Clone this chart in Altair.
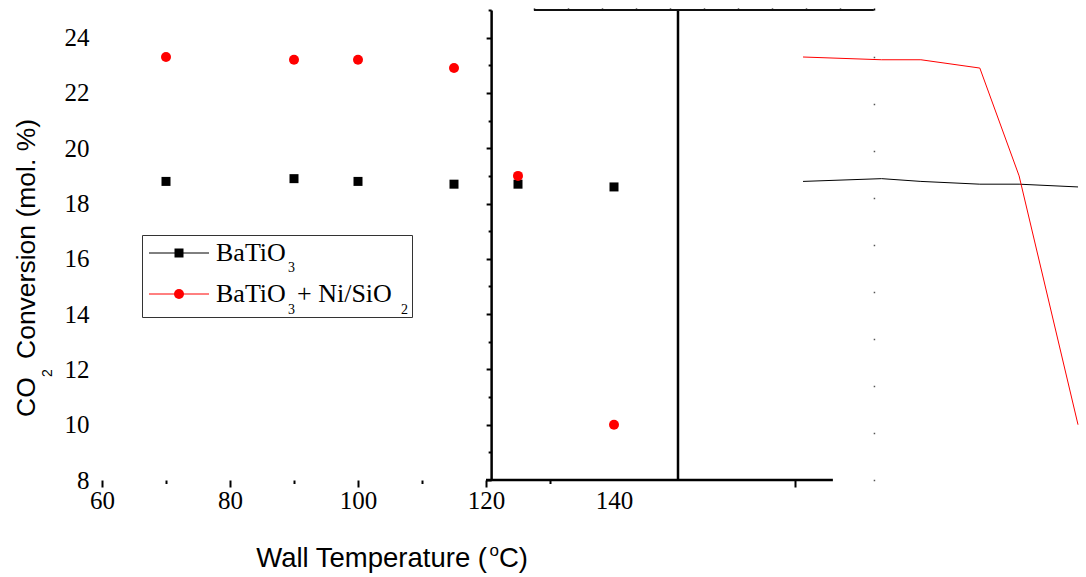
import altair as alt
import pandas as pd

# ---- data ----
temps = [70, 90, 100, 115, 125, 140]
batio3 = [18.8, 18.9, 18.8, 18.7, 18.7, 18.6]
batio3_ni = [23.3, 23.2, 23.2, 22.9, 19.0, 10.0]
series_names = ["BaTiO3", "BaTiO3 + Ni/SiO2"]
x_tick_labels = [60, 80, 100, 120, 140]
y_tick_labels = [8, 10, 12, 14, 16, 18, 20, 22, 24]

# stray frame fragments (in data units)
y_major = [8, 10, 12, 14, 16, 18, 20, 22, 24]
y_minor = [9, 11, 13, 15, 17, 19, 21, 23, 25]
x_major_ticks = [60, 80, 100, 120, 168.3]
x_minor_ticks = [70, 90, 110, 130]
top_ticks = [127.5, 132.8, 138.1, 143.4, 148.75, 154.1, 159.4, 164.7, 170.0, 175.3, 180.6]
right_dots = [8, 9.7, 11.4, 13.1, 14.8, 16.5, 18.2, 19.9, 21.6, 23.3]

X_DOMAIN = [60, 210]
Y_DOMAIN = [8, 25]
LINE_X_DOMAIN = [-108.44, 135.92]
W, H = 960, 470
PAD_L, PAD_T = 102, 10
PX = W / (X_DOMAIN[1] - X_DOMAIN[0])

SERIF = "Liberation Serif"
SANS = "Liberation Sans"

df = pd.DataFrame({
    "T": temps * 2,
    "conv": batio3 + batio3_ni,
    "series": [series_names[0]] * len(temps) + [series_names[1]] * len(temps),
})

xs = alt.Scale(domain=X_DOMAIN, nice=False, zero=False)
ys = alt.Scale(domain=Y_DOMAIN, nice=False, zero=False)
cs = alt.Scale(domain=series_names, range=["#000000", "#ff0000"])
ss = alt.Scale(domain=series_names, range=["square", "circle"])
zs = alt.Scale(domain=series_names, range=[81, 100])

def blank_axis(**kw):
    base = dict(title=None, grid=False, labels=False, domain=False,
                tickColor="black")
    base.update(kw)
    return alt.Axis(**base)

points = alt.Chart(df).mark_point(filled=True, opacity=1).encode(
    x=alt.X("T:Q", scale=xs, axis=alt.Axis(
        values=x_tick_labels, ticks=False, domain=False, grid=False, title=None,
        labelFont=SERIF, labelFontSize=25, labelColor="black", labelPadding=8,
        labelFlush=False, labelOverlap=False, orient="bottom")),
    y=alt.Y("conv:Q", scale=ys, axis=alt.Axis(
        values=y_tick_labels, ticks=False, domain=False, grid=False, title=None,
        labelFont=SERIF, labelFontSize=25, labelColor="black", labelPadding=13,
        labelFlush=False, labelOverlap=False, orient="left")),
    color=alt.Color("series:N", scale=cs, legend=None),
    shape=alt.Shape("series:N", scale=ss, legend=None),
    size=alt.Size("series:N", scale=zs, legend=None),
)

off_left = -(120.8 - X_DOMAIN[0]) * PX
lines = alt.Chart(df).mark_line(strokeWidth=1).encode(
    x=alt.X("T:Q", scale=alt.Scale(domain=LINE_X_DOMAIN, nice=False, zero=False), axis=None),
    y=alt.Y("conv:Q", scale=ys, axis=blank_axis(
        orient="left", offset=off_left, values=y_major, tickSize=5, tickWidth=2,
        domain=True, domainWidth=2.5, domainColor="black")),
    color=alt.Color("series:N", scale=cs, legend=None),
)

vline = alt.Chart(pd.DataFrame({"x": [150], "y": [Y_DOMAIN[0]], "y2": [Y_DOMAIN[1]]})).mark_rule(
    strokeWidth=2.5, color="black").encode(
    x=alt.X("x:Q", scale=xs, axis=blank_axis(orient="bottom", values=x_major_ticks,
                                              tickSize=7, tickWidth=2)),
    y=alt.Y("y:Q", scale=ys, axis=blank_axis(orient="left", offset=off_left, values=y_minor,
                                              tickSize=3, tickWidth=2)),
    y2="y2:Q",
)

bline = alt.Chart(pd.DataFrame({"x": [120], "x2": [174.2], "y": [Y_DOMAIN[0]]})).mark_rule(
    strokeWidth=2.5, color="black").encode(
    x=alt.X("x:Q", scale=xs, axis=blank_axis(orient="bottom", values=x_minor_ticks,
                                              tickSize=3.5, tickWidth=2)),
    x2="x2:Q",
    y=alt.Y("y:Q", scale=ys, axis=None),
)

off_right = -(X_DOMAIN[1] - 180.5) * PX
tline = alt.Chart(pd.DataFrame({"x": [127.5], "x2": [180.6], "y": [Y_DOMAIN[1]]})).mark_rule(
    strokeWidth=2, color="#111111").encode(
    x=alt.X("x:Q", scale=xs, axis=blank_axis(orient="top", values=top_ticks,
                                              tickSize=2, tickWidth=1.5)),
    x2="x2:Q",
    y=alt.Y("y:Q", scale=ys, axis=blank_axis(orient="right", offset=off_right, values=right_dots,
                                              tickSize=1.5, tickWidth=1.5, tickColor="#555555")),
)

one = pd.DataFrame({"a": [0]})

def txt(s, x, y, size, font, angle=0, align="left", color="black"):
    return alt.Chart(one).mark_text(
        text=s, align=align, baseline="alphabetic", font=font, fontSize=size,
        angle=angle, color=color).encode(x=alt.value(x - PAD_L), y=alt.value(y - PAD_T))

# legend
legend_box = alt.Chart(one).mark_rect(fill="white", stroke="#333333", strokeWidth=1).encode(
    x=alt.value(142.5 - PAD_L), x2=alt.value(412.5 - PAD_L),
    y=alt.value(235.5 - PAD_T), y2=alt.value(317.5 - PAD_T))
leg_line1 = alt.Chart(one).mark_rule(color="black", strokeWidth=1).encode(
    x=alt.value(149 - PAD_L), x2=alt.value(209 - PAD_L), y=alt.value(253 - PAD_T))
leg_line2 = alt.Chart(one).mark_rule(color="#ff0000", strokeWidth=1).encode(
    x=alt.value(149 - PAD_L), x2=alt.value(209 - PAD_L), y=alt.value(294 - PAD_T))
leg_sym1 = alt.Chart(one).mark_point(shape="square", filled=True, opacity=1, color="black", size=81).encode(
    x=alt.value(179 - PAD_L), y=alt.value(253 - PAD_T))
leg_sym2 = alt.Chart(one).mark_point(shape="circle", filled=True, opacity=1, color="#ff0000", size=100).encode(
    x=alt.value(179 - PAD_L), y=alt.value(294 - PAD_T))

texts = [
    txt("BaTiO", 216, 261, 26, SERIF),
    txt("3", 288, 272, 14, SERIF),
    txt("BaTiO", 216, 302, 26, SERIF),
    txt("3", 288, 314, 14, SERIF),
    txt("+ Ni/SiO", 297, 302, 26, SERIF),
    txt("2", 401, 313.5, 14, SERIF),
    # x title
    txt("Wall Temperature (", 487, 566.5, 27.5, SANS, align="right"),
    txt("o", 489.5, 556, 17, SANS),
    txt("C)", 499, 566.5, 27.5, SANS),
    # y title
    txt("CO", 35, 417, 26.5, SANS, angle=270),
    txt("2", 52, 377, 14, SANS, angle=270),
    txt("Conversion (mol. %)", 35, 359, 26.5, SANS, angle=270),
]

chart = alt.layer(
    lines, vline, bline, tline, points,
    legend_box, leg_line1, leg_line2, leg_sym1, leg_sym2, *texts
).resolve_scale(x="independent").resolve_axis(x="independent", y="independent").properties(
    width=W, height=H,
    padding={"left": PAD_L, "top": PAD_T, "right": 1086 - PAD_L - W, "bottom": 577 - PAD_T - H},
    autosize=alt.AutoSizeParams(type="none"),
    background="white",
).configure_view(stroke="transparent")

chart.save("out.html", embed_options={"renderer": "svg", "actions": False})
